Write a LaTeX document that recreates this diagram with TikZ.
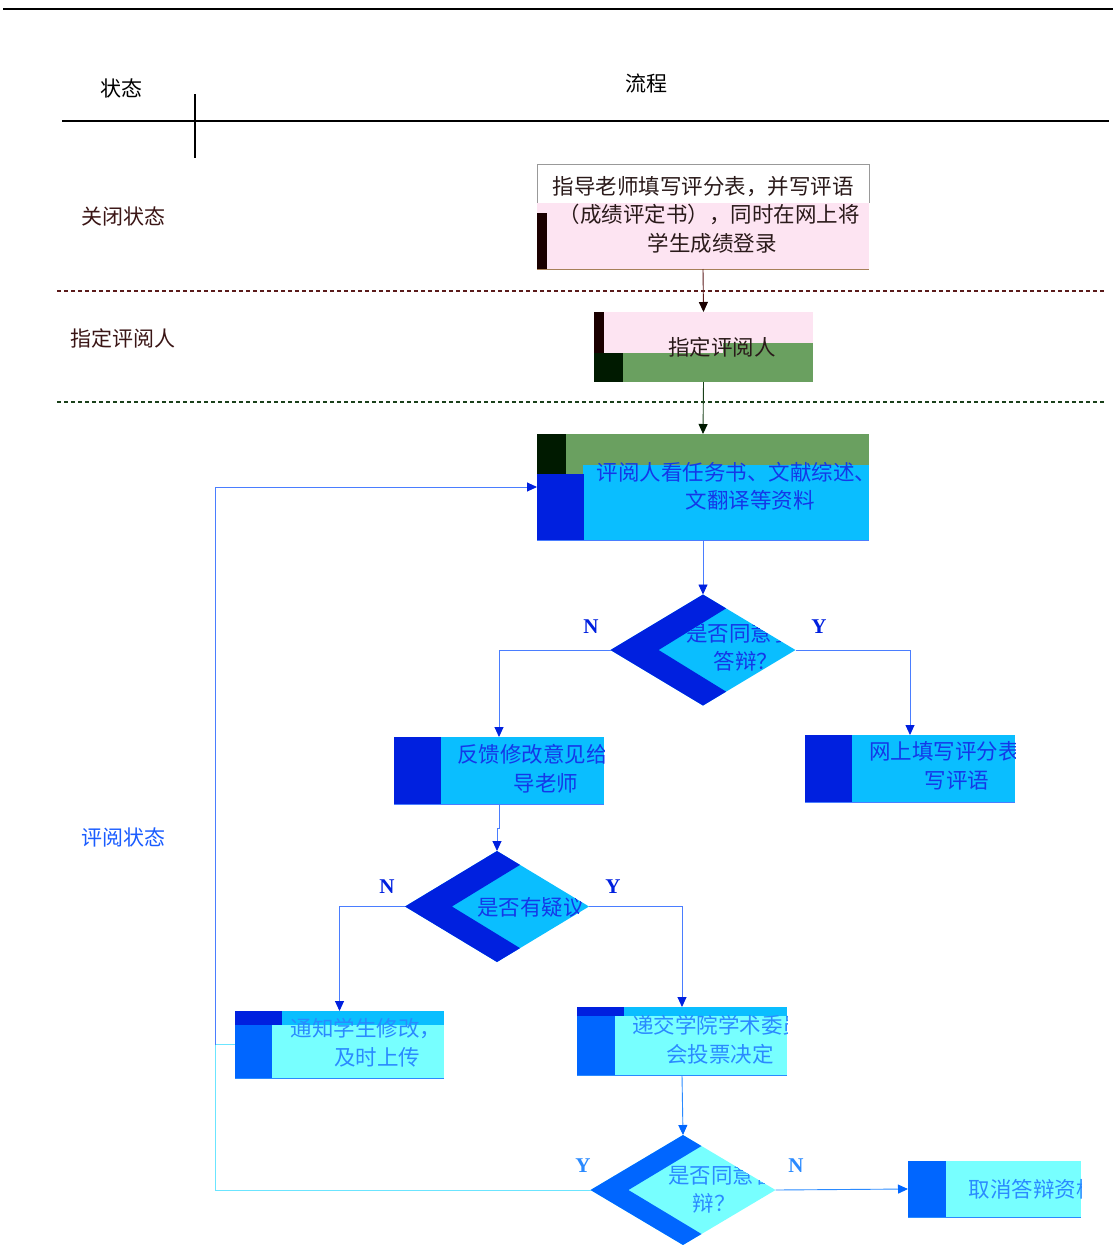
\documentclass[tikz,border=0pt]{standalone}
\usepackage{fontspec}
\newfontfamily\cjk{Noto Sans CJK SC}
\newfontfamily\ynfont{Liberation Serif}
\usetikzlibrary{shapes.geometric,calc,arrows.meta}
\definecolor{dblue}{HTML}{0020DF}
\definecolor{cyanA}{HTML}{0ABEFF}
\definecolor{mblue}{HTML}{0066FF}
\definecolor{lcyan}{HTML}{77FFFF}
\definecolor{pinkA}{HTML}{FDE4F2}
\definecolor{grnA}{HTML}{6AA060}
\definecolor{dgrn}{HTML}{001A00}
\definecolor{brnA}{HTML}{1A0000}
\definecolor{lineblue}{HTML}{4A7DFF}
\definecolor{txtdark}{HTML}{2A1A1A}
\definecolor{txtblue}{HTML}{1438E8}
\definecolor{txtmblue}{HTML}{2A8AFF}
\definecolor{dashred}{HTML}{5A1A1A}
\definecolor{dashgrn}{HTML}{1A401A}
\definecolor{statered}{HTML}{3A1515}
\definecolor{stateblue}{HTML}{1A5CFF}
\begin{document}
\begin{tikzpicture}[x=1pt,y=-1pt,
  lbl/.style={font=\cjk\fontsize{21}{25}\selectfont, inner sep=0},
  btxt/.style={font=\cjk\fontsize{21.5}{26}\selectfont, inner sep=0},
  yn/.style={font=\ynfont\bfseries\fontsize{21}{24}\selectfont, inner sep=0},
  holder/.style={inner sep=0, outer sep=0, draw=none},
  dia/.style={diamond, inner sep=0, outer sep=0, draw=none, minimum width=185pt, minimum height=111pt},
  conn/.style={line width=0.9pt},
  arrowto/.style={-{Triangle[length=10pt,width=9pt,color=#1]}},
]
\useasboundingbox (0,0) rectangle (1113,1245);

% ---------- header ----------
\draw[line width=2.6pt] (3,9) -- (1113,9);
\node[lbl] (hstate) at (121,88) {状态};
\node[lbl] (hflow) at (646,83) {流程};
\draw[line width=1.1pt] (195,94) -- (195,158);
\draw[line width=1.8pt] (62,121) -- (1109,121);

% ---------- state labels & separators ----------
\node[lbl, text=statered] (s1) at (123,216) {关闭状态};
\node[lbl, text=statered] (s2) at (123,338) {指定评阅人};
\node[lbl, text=stateblue] (s3) at (123,837) {评阅状态};
\draw[dashred, line width=1.4pt, dash pattern=on 4pt off 3pt] (57,291) -- (1104,291);
\draw[dashgrn, line width=1.4pt, dash pattern=on 4pt off 3pt] (57,402) -- (1104,402);

% ---------- holders (named nodes) ----------
\node[holder, minimum width=332pt, minimum height=105pt] (b1) at (703,216.5) {};
\node[holder, minimum width=219pt, minimum height=70pt] (b2) at (703.5,347) {};
\node[holder, minimum width=332pt, minimum height=106pt] (b3) at (703,487) {};
\node[holder, minimum width=210pt, minimum height=67pt] (b4) at (499,770.5) {};
\node[holder, minimum width=210pt, minimum height=67pt] (b5) at (910,768.5) {};
\node[holder, minimum width=209pt, minimum height=67pt] (b6) at (339.5,1044.5) {};
\node[holder, minimum width=210pt, minimum height=68pt] (b7) at (682,1041) {};
\node[holder, minimum width=173pt, minimum height=56pt] (b8) at (994.5,1189) {};
\node[dia] (d1) at (703,650) {};
\node[dia, minimum width=184pt] (d2) at (497,906.5) {};
\node[dia, minimum height=110pt] (d3) at (683,1190) {};

% ---------- box 1 ----------
\fill[white] (537,164) rectangle (869,203);
\draw[gray!80, line width=0.8pt] (537,203) -- (537,164) -- (869,164) -- (869,203);
\fill[pinkA] (537,203) rectangle (869,269);
\fill[brnA] (537,213) rectangle (547,269);
\draw[brown!60!gray, line width=0.6pt] (537,269) -- (869,269);
\begin{scope}
\clip (537,164) rectangle (869,269);
\node[btxt, text=txtdark] (t1a) at (703,187) {指导老师填写评分表，并写评语};
\node[btxt, text=txtdark] (t1b) at (709,214) {（成绩评定书），同时在网上将};
\node[btxt, text=txtdark] (t1c) at (712,243) {学生成绩登录};
\end{scope}

% ---------- box 2 ----------
\fill[pinkA] (594,312) rectangle (813,353);
\fill[brnA] (594,312) rectangle (604,353);
\fill[grnA] (723,343) rectangle (813,353);
\fill[grnA] (594,353) rectangle (813,382);
\fill[dgrn] (594,353) rectangle (623,382);
\begin{scope}
\clip (594,312) rectangle (813,382);
\node[btxt, text=txtdark] (t2) at (722,347) {指定评阅人};
\end{scope}

% ---------- box 3 ----------
\fill[grnA] (537,434) rectangle (869,474);
\fill[dgrn] (537,434) rectangle (566,474);
\fill[cyanA] (583,465) rectangle (869,540);
\fill[dblue] (537,474) rectangle (584,540);
\draw[lineblue, line width=0.7pt] (537,540) -- (869,540);
\begin{scope}
\clip (583,434) rectangle (869,540);
\node[btxt, text=txtblue] (t3a) at (747,472) {评阅人看任务书、文献综述、外};
\node[btxt, text=txtblue] (t3b) at (750,500) {文翻译等资料};
\end{scope}

% ---------- diamond 1 ----------
\fill[cyanA] (d1.north) -- (d1.east) -- (d1.south) -- (d1.west) -- cycle;
\fill[dblue] (d1.north) -- ($(d1.north)!0.25!(d1.east)$) -- ($(d1.west)!0.26!(d1.east)$) -- ($(d1.south)!0.25!(d1.east)$) -- (d1.south) -- (d1.west) -- cycle;
\begin{scope}
\clip ($(d1.north)!0.25!(d1.east)$) -- (d1.east) -- ($(d1.south)!0.25!(d1.east)$) -- ($(d1.west)!0.26!(d1.east)$) -- cycle;
\node[btxt, text=txtblue] (td1a) at (740,633) {是否同意参};
\node[btxt, text=txtblue] (td1b) at (746,661) {答辩？};
\end{scope}
\node[yn, text=dblue] (n1) at (591,627) {N};
\node[yn, text=dblue] (y1) at (819,627) {Y};

% ---------- box 4 ----------
\fill[cyanA] (394,737) rectangle (604,804);
\fill[dblue] (394,737) rectangle (441,804);
\draw[lineblue, line width=0.7pt] (394,804) -- (604,804);
\begin{scope}
\clip (441,737) rectangle (604,804);
\node[btxt, text=txtblue] (t4a) at (543,754) {反馈修改意见给指};
\node[btxt, text=txtblue] (t4b) at (546,783) {导老师};
\end{scope}

% ---------- box 5 ----------
\fill[cyanA] (805,735) rectangle (1015,802);
\fill[dblue] (805,735) rectangle (852,802);
\draw[lineblue, line width=0.7pt] (805,802) -- (1015,802);
\begin{scope}
\clip (852,735) rectangle (1015,802);
\node[btxt, text=txtblue] (t5a) at (966,752) {网上填写评分表，并};
\node[btxt, text=txtblue] (t5b) at (957,781) {写评语};
\end{scope}

% ---------- diamond 2 ----------
\fill[cyanA] (d2.north) -- (d2.east) -- (d2.south) -- (d2.west) -- cycle;
\fill[dblue] (d2.north) -- ($(d2.north)!0.25!(d2.east)$) -- ($(d2.west)!0.255!(d2.east)$) -- ($(d2.south)!0.25!(d2.east)$) -- (d2.south) -- (d2.west) -- cycle;
\begin{scope}
\clip ($(d2.north)!0.25!(d2.east)$) -- (d2.east) -- ($(d2.south)!0.25!(d2.east)$) -- ($(d2.west)!0.255!(d2.east)$) -- cycle;
\node[btxt, text=txtblue] (td2) at (531,907) {是否有疑议};
\end{scope}
\node[yn, text=dblue] (n2) at (387,887) {N};
\node[yn, text=dblue] (y2) at (613,887) {Y};

% ---------- box 6 ----------
\fill[dblue] (235,1011) rectangle (282,1025);
\fill[cyanA] (282,1011) rectangle (444,1025);
\fill[mblue] (235,1025) rectangle (272,1078);
\fill[lcyan] (272,1025) rectangle (444,1078);
\draw[txtmblue, line width=0.7pt] (235,1078) -- (444,1078);
\begin{scope}
\clip (272,1011) rectangle (444,1078);
\node[btxt, text=txtmblue] (t6a) at (366,1029) {通知学生修改，};
\node[btxt, text=txtmblue] (t6b) at (377,1057) {及时上传};
\end{scope}

% ---------- box 7 ----------
\fill[dblue] (577,1007) rectangle (624,1016);
\fill[cyanA] (624,1007) rectangle (787,1016);
\fill[mblue] (577,1016) rectangle (615,1075);
\fill[lcyan] (615,1016) rectangle (787,1075);
\draw[txtmblue, line width=0.7pt] (577,1075) -- (787,1075);
\begin{scope}
\clip (615,1007) rectangle (787,1075);
\node[btxt, text=txtmblue] (t7a) at (718,1025) {递交学院学术委员};
\node[btxt, text=txtmblue] (t7b) at (720,1054) {会投票决定};
\end{scope}

% ---------- diamond 3 ----------
\fill[lcyan] (d3.north) -- (d3.east) -- (d3.south) -- (d3.west) -- cycle;
\fill[mblue] (d3.north) -- ($(d3.north)!0.2!(d3.east)$) -- ($(d3.west)!0.205!(d3.east)$) -- ($(d3.south)!0.2!(d3.east)$) -- (d3.south) -- (d3.west) -- cycle;
\begin{scope}
\clip ($(d3.north)!0.2!(d3.east)$) -- (d3.east) -- ($(d3.south)!0.2!(d3.east)$) -- ($(d3.west)!0.205!(d3.east)$) -- cycle;
\node[btxt, text=txtmblue] (td3a) at (722,1175) {是否同意答};
\node[btxt, text=txtmblue] (td3b) at (714,1203) {辩？};
\end{scope}
\node[yn, text=txtmblue] (y3) at (583,1166) {Y};
\node[yn, text=txtmblue] (n3) at (796,1166) {N};

% ---------- box 8 ----------
\fill[lcyan] (908,1161) rectangle (1081,1217);
\fill[mblue] (908,1161) rectangle (946,1217);
\draw[txtmblue, line width=0.7pt] (908,1217) -- (1081,1217);
\begin{scope}
\clip (946,1161) rectangle (1081,1217);
\node[btxt, text=txtmblue] (t8) at (1033,1189) {取消答辩资格};
\end{scope}

% ---------- connectors ----------
\draw[conn, draw=dashred, arrowto=brnA] (b1.south) -- (b2.north);
\draw[conn, draw=dashgrn, arrowto=dgrn] (b2.south) -- (b3.north);
\draw[conn, draw=lineblue, arrowto=dblue] (b3.south) -- (d1.north);
\draw[conn, draw=lineblue, arrowto=dblue] (d1.west) -| (b4.north);
\draw[conn, draw=lineblue, arrowto=dblue] (d1.east) -| (b5.north);
\draw[conn, draw=lineblue, arrowto=dblue] (b4.south) -- ++(0,24) -| (d2.north);
\draw[conn, draw=lineblue, arrowto=dblue] (d2.west) -| (b6.north);
\draw[conn, draw=lineblue, arrowto=dblue] (d2.east) -| (b7.north);
\draw[conn, draw=txtmblue, arrowto=mblue] (b7.south) -- (d3.north);
\coordinate (loopj) at (215,1044.5);
\draw[conn, draw=lcyan!90!blue] (d3.west) -| (loopj);
\draw[conn, draw=lcyan!90!blue] (b6.west) -- (loopj);
\draw[conn, draw=lineblue, arrowto=dblue] (loopj) |- (b3.west);
\draw[conn, draw=txtmblue, arrowto=mblue] (d3.east) -- (b8.west);
\end{tikzpicture}
\end{document}
